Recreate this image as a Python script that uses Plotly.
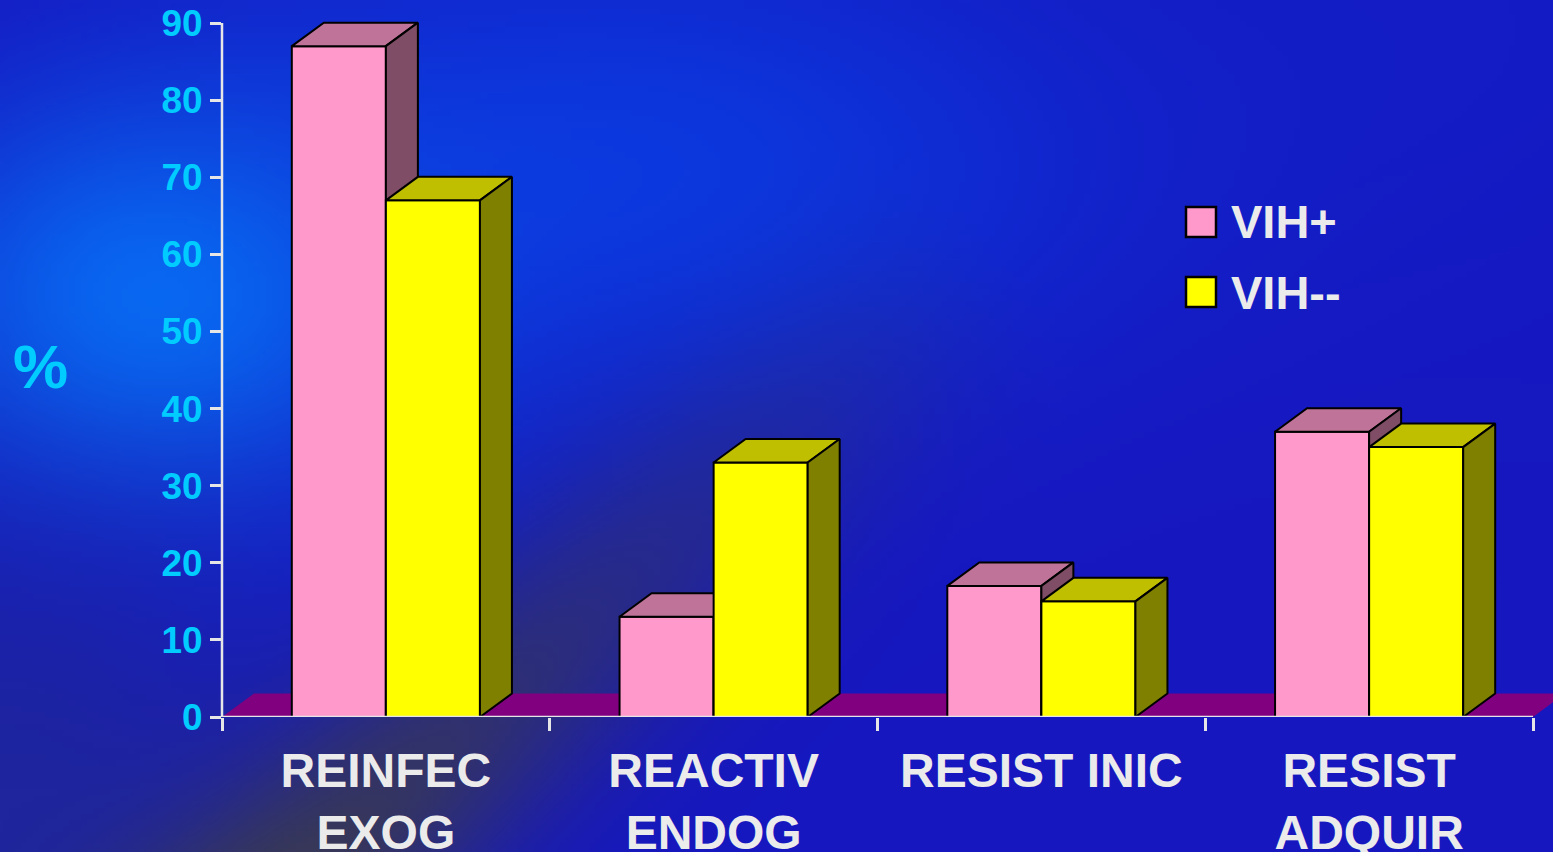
import base64, struct, zlib
import numpy as np
import plotly.graph_objects as go

# ---------------- data ----------------
categories = ["REINFEC<br>EXOG", "REACTIV<br>ENDOG", "RESIST INIC", "RESIST<br>ADQUIR"]
vih_pos = [87, 13, 17, 37]
vih_neg = [67, 33, 15, 35]
series_names = ["VIH+", "VIH--"]
y_ticks = [0, 10, 20, 30, 40, 50, 60, 70, 80, 90]

# ---------------- geometry / style ----------------
W, H = 1553, 852
ML, MR, MT, MB = 222, 0, 8, 135
PW, PH = W - ML - MR, H - MT - MB
PX_PER_Y = 694 / 90.0
Y_MAX = PH / PX_PER_Y
X_MAX = PW / 327.75
BAR_W = 0.287
DX = 32 / 327.75
DY = 23.5 / PX_PER_Y

PINK = dict(front="#FF99CC", top="#BF7399", side="#804D66")
YEL = dict(front="#FFFF00", top="#BFBF00", side="#808000")
FLOOR = "#800080"
AXIS = "#E6E6E6"
CYAN = "#00CCFF"
LABEL = "#EBEBEB"
FONT = "Liberation Sans"


def px2paper(px, py):
    return (px - ML) / PW, (H - MB - py) / PH


# ---------------- background image ----------------
def make_bg():
    gw, gh = 260, 143
    X, Y = np.meshgrid(np.linspace(0, W, gw), np.linspace(0, H, gh))
    img = np.zeros((gh, gw, 3)) + np.array([22, 24, 192], float)

    def blend(col, w):
        nonlocal img
        w = np.clip(w, 0, 1)[..., None]
        img = img * (1 - w) + np.array(col, float) * w

    blend([18, 30, 200], np.exp(-(((X - 1450) / 300) ** 2 + ((Y - 0) / 250) ** 2)) * 0.6)
    blend([10, 62, 228], np.exp(-(((X - 620) / 480) ** 2 + ((Y - 170) / 250) ** 2)) * 0.85)
    blend([8, 108, 244], np.exp(-(((X - 150) / 260) ** 2 + ((Y - 300) / 200) ** 2)) * 0.95)
    blend([32, 40, 150], np.exp(-(((X - 0) / 280) ** 2 + ((Y - 800) / 260) ** 2)) * 0.8)
    # dark diagonal smear
    ax_, ay_ = 230.0, 940.0
    bx_, by_ = 1000.0, 250.0
    vx, vy = bx_ - ax_, by_ - ay_
    L = np.hypot(vx, vy)
    t = ((X - ax_) * vx + (Y - ay_) * vy) / L ** 2
    d = np.abs((X - ax_) * vy - (Y - ay_) * vx) / L
    w = np.exp(-(d / 120) ** 2) * np.clip(1 - t, 0, 1) ** 1.0 * (t > -0.2)
    blend([60, 60, 76], w * 1.0)
    blend([26, 22, 190], np.exp(-(((X - 1250) / 350) ** 2 + ((Y - 700) / 300) ** 2)) * 0.5)

    arr = np.clip(img, 0, 255).astype(np.uint8)
    raw = b"".join(b"\x00" + arr[i].tobytes() for i in range(gh))

    def chunk(tag, data):
        c = struct.pack(">I", len(data)) + tag + data
        return c + struct.pack(">I", zlib.crc32(tag + data) & 0xFFFFFFFF)

    png = b"\x89PNG\r\n\x1a\n" + chunk(b"IHDR", struct.pack(">IIBBBBB", gw, gh, 8, 2, 0, 0, 0)) \
        + chunk(b"IDAT", zlib.compress(raw, 9)) + chunk(b"IEND", b"")
    return "data:image/png;base64," + base64.b64encode(png).decode()


fig = go.Figure()

centers = [i + 0.5 for i in range(len(categories))]

# floor
fig.add_trace(go.Scatter(x=[0, DX, len(categories) + DX, len(categories), 0],
                         y=[0, DY, DY, 0, 0], fill="toself", fillcolor=FLOOR,
                         mode="lines", line=dict(width=0, color=FLOOR),
                         hoverinfo="skip", showlegend=False, zorder=0))


def add_series(values, name, colors, offset_sign, z):
    fig.add_trace(go.Bar(x=centers, y=values, width=BAR_W,
                         offset=-BAR_W if offset_sign < 0 else 0,
                         marker=dict(color=colors["front"], line=dict(color="black", width=2)),
                         name=name, showlegend=False, zorder=z))
    tx, ty, sx, sy = [], [], [], []
    for c, v in zip(centers, values):
        x0 = c - BAR_W if offset_sign < 0 else c
        x1 = x0 + BAR_W
        tx += [x0, x0 + DX, x1 + DX, x1, x0, None]
        ty += [v, v + DY, v + DY, v, v, None]
        sx += [x1, x1, x1 + DX, x1 + DX, x1, None]
        sy += [0, v, v + DY, DY, 0, None]
    fig.add_trace(go.Scatter(x=tx, y=ty, fill="toself", fillcolor=colors["top"], mode="lines",
                             line=dict(color="black", width=2), hoverinfo="skip",
                             showlegend=False, zorder=z))
    fig.add_trace(go.Scatter(x=sx, y=sy, fill="toself", fillcolor=colors["side"], mode="lines",
                             line=dict(color="black", width=2), hoverinfo="skip",
                             showlegend=False, zorder=z))


add_series(vih_pos, series_names[0], PINK, -1, 1)
add_series(vih_neg, series_names[1], YEL, 1, 2)

shapes = [
    dict(type="line", xref="x", yref="y", x0=0, x1=len(categories), y0=0, y1=0,
         line=dict(color=AXIS, width=2.5), layer="above"),
    dict(type="line", xref="paper", yref="y", x0=0, x1=0, y0=0, y1=90,
         line=dict(color=AXIS, width=2.5), layer="above"),
]

annotations = [dict(text="%", x=px2paper(40, 0)[0], y=px2paper(0, 366)[1], xref="paper", yref="paper",
                    showarrow=False, xanchor="center", yanchor="middle",
                    font=dict(family=FONT, size=62, color=CYAN, weight="bold"))]

# manual legend
for name, col, cy in [(series_names[0], PINK["front"], 222), (series_names[1], YEL["front"], 292)]:
    x0, y0 = px2paper(1186, cy + 15)
    x1, y1 = px2paper(1216, cy - 15)
    shapes.append(dict(type="rect", xref="paper", yref="paper", x0=x0, x1=x1, y0=y0, y1=y1,
                       fillcolor=col, line=dict(color="black", width=2.5), layer="above"))
    tx, ty = px2paper(1229, cy)
    annotations.append(dict(text=name, x=tx, y=ty, xref="paper", yref="paper", showarrow=False,
                            xanchor="left", yanchor="middle",
                            font=dict(family=FONT, size=47, color=LABEL, weight="bold")))

bx, by = px2paper(0, 0)
fig.update_layout(
    width=W, height=H,
    margin=dict(l=ML, r=MR, t=MT, b=MB, pad=0, autoexpand=False),
    paper_bgcolor="#1418C0", plot_bgcolor="rgba(0,0,0,0)",
    showlegend=False, barmode="overlay",
    images=[dict(source=make_bg(), xref="paper", yref="paper", x=bx, y=by,
                 sizex=W / PW, sizey=H / PH, sizing="stretch", layer="below",
                 xanchor="left", yanchor="top")],
    shapes=shapes, annotations=annotations,
    xaxis=dict(range=[0, X_MAX], tickvals=centers, ticktext=categories, ticks="",
               automargin=False,
               showgrid=False, zeroline=False, showline=False, ticklabelstandoff=21,
               tickfont=dict(family=FONT, size=48, color=LABEL, weight="bold"),
               minor=dict(tickvals=list(range(len(categories) + 1)), ticks="outside",
                          ticklen=13, tickwidth=2.5, tickcolor=AXIS)),
    yaxis=dict(range=[0, Y_MAX], tickvals=y_ticks, ticks="outside", ticklen=11, tickwidth=2.5,
               automargin=False,
               tickcolor=AXIS, showgrid=False, zeroline=False, showline=False,
               tickfont=dict(family=FONT, size=37, color=CYAN, weight="bold")),
)

fig.write_html("out.html")
